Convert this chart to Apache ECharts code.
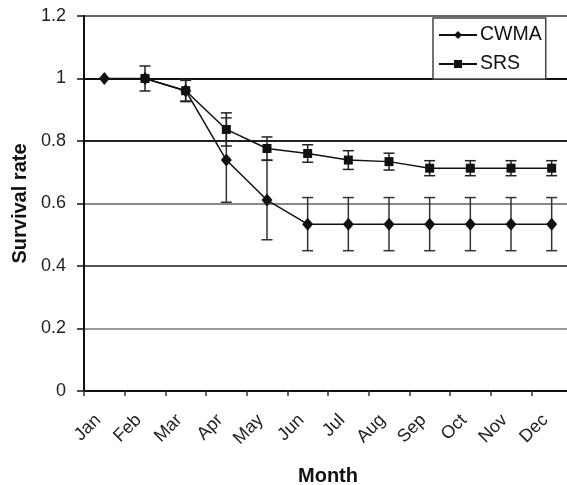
<!DOCTYPE html>
<html>
<head>
<meta charset="utf-8">
<script src="https://cdn.jsdelivr.net/npm/echarts@6/dist/echarts.min.js"></script>
<style>
html,body{margin:0;padding:0;background:#fff;}
#main{width:567px;height:485px;}
</style>
</head>
<body>
<div id="main"></div>
<script>
var months = ['Jan','Feb','Mar','Apr','May','Jun','Jul','Aug','Sep','Oct','Nov','Dec'];
var cwma = [1, 1, 0.961, 0.739, 0.611, 0.534, 0.534, 0.534, 0.534, 0.534, 0.534, 0.534];
var cwmaErr = [0, 0, 0.033, 0.135, 0.127, 0.085, 0.085, 0.085, 0.085, 0.085, 0.085, 0.085];
var srs = ['-', 1, 0.961, 0.837, 0.776, 0.760, 0.739, 0.734, 0.713, 0.713, 0.713, 0.713];
var srsErr = [0, 0.04, 0.035, 0.053, 0.037, 0.028, 0.030, 0.027, 0.024, 0.024, 0.024, 0.024];
var yTicks = [0, 0.2, 0.4, 0.6, 0.8, 1, 1.2];

function errData(vals, errs) {
    var out = [];
    for (var i = 0; i < vals.length; i++) {
        if (vals[i] === '-' || !errs[i]) continue;
        out.push([i, vals[i] - errs[i], vals[i] + errs[i]]);
    }
    return out;
}

function errBar(color) {
    return function (params, api) {
        var lo = api.coord([api.value(0), api.value(1)]);
        var hi = api.coord([api.value(0), api.value(2)]);
        var w = 5.5;
        var st = {stroke: color, lineWidth: 1.5};
        return {
            type: 'group',
            children: [
                {type: 'line', shape: {x1: lo[0], y1: lo[1], x2: hi[0], y2: hi[1]}, style: st},
                {type: 'line', shape: {x1: lo[0] - w, y1: lo[1], x2: lo[0] + w, y2: lo[1]}, style: st},
                {type: 'line', shape: {x1: hi[0] - w, y1: hi[1], x2: hi[0] + w, y2: hi[1]}, style: st}
            ]
        };
    };
}

var font = 'Liberation Sans, Arial, sans-serif';
var chart = echarts.init(document.getElementById('main'));
chart.setOption({
    animation: false,
    textStyle: {fontFamily: font},
    grid: {left: 84, right: -5, top: 16, bottom: 94, containLabel: false, outerBoundsMode: 'none'},
    legend: {
        data: ['CWMA', 'SRS'],
        orient: 'vertical',
        left: 433,
        top: 18,
        width: 115,
        padding: [7, 4, 5, 5],
        itemGap: 9,
        itemWidth: 38,
        itemHeight: 10,
        backgroundColor: '#fff',
        borderColor: '#444',
        borderWidth: 1.5,
        borderRadius: 0,
        textStyle: {fontSize: 19.5, color: '#111', fontFamily: font, padding: [0, 0, 0, -2]}
    },
    xAxis: {
        type: 'category',
        data: months,
        name: 'Month',
        nameLocation: 'middle',
        nameGap: 75,
        nameTextStyle: {fontSize: 20, fontWeight: 'bold', color: '#111'},
        axisLine: {lineStyle: {color: '#111', width: 2}},
        axisTick: {show: true, length: 5, lineStyle: {color: '#333', width: 1.5}},
        axisLabel: {rotate: 45, fontSize: 18, color: '#222', margin: 20, padding: [0, 9, 0, 0], interval: 0},
        splitLine: {show: false}
    },
    yAxis: {
        type: 'value',
        min: 0,
        max: 1.2,
        interval: 0.2,
        name: 'Survival rate',
        nameLocation: 'middle',
        nameGap: 54,
        nameTextStyle: {fontSize: 20, fontWeight: 'bold', color: '#111'},
        axisLine: {show: true, lineStyle: {color: '#111', width: 2}},
        axisTick: {show: true, length: 7, lineStyle: {color: '#111', width: 1.5}},
        axisLabel: {
            fontSize: 18, color: '#222', margin: 18,
            formatter: function (v) { return yTicks.indexOf(v) >= 0 ? String(v) : ''; }
        },
        splitLine: {
            show: true,
            lineStyle: {width: 2, color: ['#111', '#999', '#555', '#888', '#222', '#111', '#666']}
        }
    },
    series: [
        {
            name: 'CWMA err',
            type: 'custom',
            renderItem: errBar('#333'),
            data: errData(cwma, cwmaErr),
            encode: {x: 0, y: [1, 2]},
            z: 2
        },
        {
            name: 'SRS err',
            type: 'custom',
            renderItem: errBar('#222'),
            data: errData(srs, srsErr),
            encode: {x: 0, y: [1, 2]},
            z: 2
        },
        {
            name: 'CWMA',
            type: 'line',
            data: cwma,
            symbol: 'diamond',
            symbolSize: [11, 13],
            itemStyle: {color: '#111'},
            lineStyle: {color: '#111', width: 1.5},
            z: 3
        },
        {
            name: 'SRS',
            type: 'line',
            data: srs,
            symbol: 'rect',
            symbolSize: 9,
            itemStyle: {color: '#111'},
            lineStyle: {color: '#111', width: 1.5},
            z: 4
        }
    ]
});
</script>
</body>
</html>
